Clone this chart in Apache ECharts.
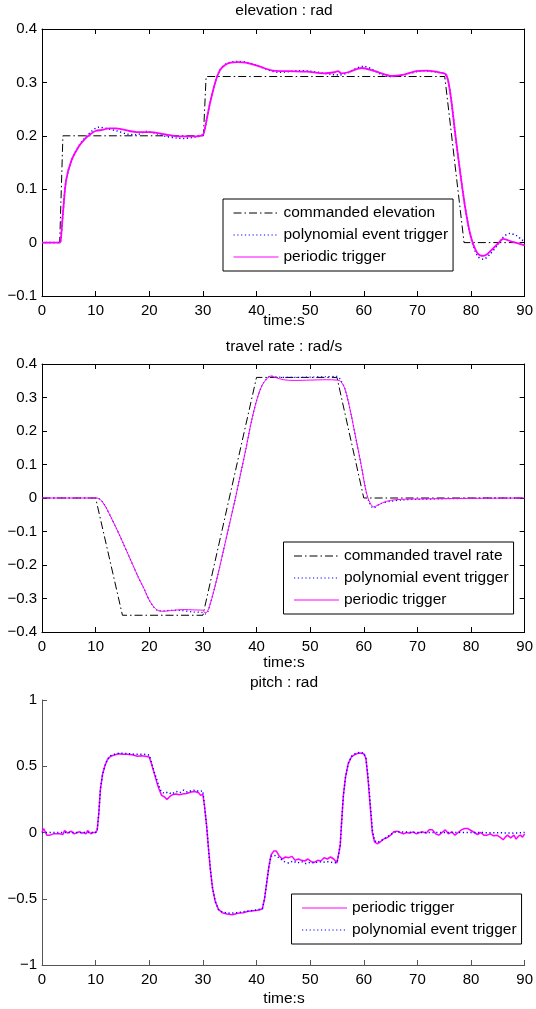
<!DOCTYPE html>
<html>
<head>
<meta charset="utf-8">
<script src="https://cdn.jsdelivr.net/npm/echarts@6/dist/echarts.min.js"></script>
<style>html,body{margin:0;padding:0;background:#fff}#c{width:536px;height:1009px}</style>
</head>
<body>
<div id="c"></div>
<script>
// ---------- data: [time (s), value] ----------
const timeTicks = [0, 10, 20, 30, 40, 50, 60, 70, 80, 90];

const elevCmd = [[0,0],[3.3,0],[3.9,0.2],[30.1,0.2],[30.6,0.311],[75.1,0.311],[78.7,0],[90,0]];
const elevPoly = [[0,0],[3.3,0],[3.5,0.005],[3.9,0.054],[4.5,0.117],[5.5,0.154],[6.8,0.18],[8.1,0.197],[9.2,0.208],[10.5,0.216],[12,0.214],[14,0.209],[16,0.203],[17.6,0.202],[19.5,0.208],[21,0.205],[23,0.199],[25,0.196],[26.5,0.195],[28,0.197],[29.6,0.2],[30.1,0.204],[30.7,0.23],[31.3,0.26],[32.3,0.3],[33.2,0.324],[34.2,0.334],[35.2,0.338],[36.5,0.339],[38,0.338],[40,0.332],[42,0.324],[44,0.319],[46,0.32],[48,0.322],[50,0.321],[52,0.318],[54,0.315],[55.5,0.314],[57,0.318],[58.5,0.326],[60,0.33],[61.5,0.325],[63,0.316],[65,0.311],[67,0.313],[69,0.318],[71,0.322],[73,0.32],[74.8,0.317],[75.3,0.314],[75.8,0.3],[76.4,0.26],[77.1,0.2],[78,0.13],[79,0.06],[80,0.008],[81.2,-0.025],[82.3,-0.031],[83.5,-0.022],[85,-0.004],[86,0.01],[87.2,0.017],[88.5,0.013],[89.5,0.005],[90,0.003]];
const elevPer = [[0,0],[3.3,0],[3.5,0.005],[3.9,0.054],[4.5,0.117],[5.5,0.154],[6.8,0.179],[8.1,0.195],[9,0.203],[10,0.209],[11.2,0.211],[12.5,0.214],[13.8,0.214],[15,0.212],[16.3,0.209],[17.6,0.207],[20.2,0.207],[22.7,0.203],[25.3,0.199],[27.8,0.199],[29.6,0.2],[30.1,0.203],[30.7,0.23],[31.3,0.26],[32.3,0.3],[33.2,0.323],[34.2,0.333],[35.2,0.337],[36.5,0.338],[38,0.337],[40.5,0.33],[43.1,0.322],[46.2,0.321],[49.4,0.32],[52.6,0.317],[54.5,0.319],[55.2,0.321],[55.8,0.317],[57.1,0.319],[59.6,0.327],[62.1,0.321],[65.3,0.312],[67.2,0.314],[69.8,0.321],[71.7,0.322],[74.5,0.318],[75.3,0.315],[75.8,0.3],[76.4,0.26],[77.1,0.2],[78,0.13],[79,0.06],[80,0.01],[81.2,-0.02],[82.3,-0.025],[83,-0.022],[83.8,-0.014],[85,-0.002],[86,0.007],[87.6,0.002],[90,-0.005]];

const travCmd = [[0,0],[10,0],[15,-0.35],[30,-0.35],[40,0.36],[55,0.36],[60,0],[90,0]];
const travPoly = [[0,0],[10.2,0],[10.6,-0.002],[11.2,-0.01],[12,-0.03],[13,-0.062],[14,-0.095],[15,-0.13],[16,-0.166],[17,-0.202],[18,-0.238],[19,-0.27],[20,-0.305],[21,-0.328],[21.8,-0.337],[22.7,-0.337],[24,-0.335],[26,-0.336],[28,-0.34],[30,-0.342],[30.5,-0.346],[30.9,-0.34],[31.3,-0.32],[32,-0.28],[33,-0.215],[34,-0.145],[35,-0.075],[36,-0.005],[37,0.07],[38,0.145],[39,0.225],[40,0.29],[41,0.335],[42,0.358],[42.7,0.364],[43.5,0.362],[45,0.36],[47,0.36],[50,0.361],[53,0.362],[55,0.363],[55.7,0.352],[56.5,0.325],[57.5,0.26],[58.5,0.18],[59.5,0.1],[60.3,0.03],[60.9,-0.008],[61.8,-0.03],[63,-0.018],[65,-0.01],[67,-0.006],[70,-0.004],[80,-0.001],[90,0]];
const travPer = [[0,0],[10.2,0],[10.6,-0.002],[11.2,-0.01],[12,-0.03],[13,-0.062],[14,-0.095],[15,-0.13],[16,-0.166],[17,-0.202],[18,-0.238],[19,-0.27],[20,-0.305],[21,-0.328],[21.8,-0.337],[22.7,-0.338],[24,-0.336],[26.5,-0.333],[28,-0.334],[30,-0.335],[30.4,-0.343],[30.8,-0.34],[31.3,-0.32],[32,-0.28],[33,-0.215],[34,-0.145],[35,-0.075],[36,-0.005],[37,0.07],[38,0.145],[39,0.225],[40,0.29],[41,0.335],[42,0.358],[42.7,0.364],[43.5,0.36],[45,0.353],[47,0.351],[50,0.352],[53,0.353],[55,0.352],[55.7,0.348],[56.5,0.325],[57.5,0.26],[58.5,0.18],[59.5,0.1],[60.3,0.03],[60.9,-0.005],[61.8,-0.026],[62.6,-0.022],[63.5,-0.014],[65,-0.007],[67,-0.004],[70,-0.003],[80,-0.001],[90,0]];

const pitchPer = [[0,0],[0.3,0.03],[0.6,0.02],[0.9,-0.02],[1.2,-0.03],[1.5,-0.02],[1.8,-0.03],[2.1,-0.01],[2.4,-0.02],[2.7,-0.01],[3,-0.025],[3.3,-0.01],[3.6,0],[3.9,-0.015],[4.2,0.015],[4.5,0.02],[4.8,-0.005],[5.1,-0.02],[5.4,0.01],[5.7,0.015],[6,-0.01],[6.3,0],[6.6,0],[7,0.005],[7.4,-0.005],[7.8,0],[8.2,-0.01],[8.5,0.015],[8.8,0.01],[9.1,-0.01],[9.5,0],[10,0],[10.3,0.02],[10.6,0.15],[10.9,0.33],[11.3,0.44],[11.7,0.5],[12.2,0.55],[12.8,0.575],[13.5,0.585],[14.3,0.595],[15,0.59],[16,0.59],[17,0.585],[17.8,0.575],[18.5,0.58],[19.3,0.575],[20,0.57],[20.4,0.52],[20.9,0.45],[21.4,0.38],[21.8,0.33],[22.3,0.28],[22.8,0.27],[23.3,0.25],[23.8,0.27],[24.3,0.285],[25,0.29],[25.6,0.285],[26.2,0.29],[27,0.295],[27.8,0.305],[28.5,0.31],[29.2,0.3],[29.6,0.28],[30,0.29],[30.3,0.2],[30.7,0.05],[31,-0.1],[31.4,-0.28],[31.8,-0.42],[32.3,-0.52],[32.9,-0.58],[33.6,-0.605],[34.5,-0.615],[35.5,-0.62],[36.5,-0.61],[37.5,-0.605],[38.5,-0.595],[39.5,-0.59],[40.5,-0.585],[41.1,-0.575],[41.5,-0.5],[41.9,-0.38],[42.3,-0.26],[42.7,-0.17],[43.2,-0.14],[43.7,-0.14],[44.2,-0.175],[44.8,-0.2],[45.4,-0.185],[46,-0.19],[46.6,-0.18],[47.2,-0.21],[47.8,-0.2],[48.4,-0.21],[49,-0.215],[49.6,-0.2],[50.2,-0.22],[50.8,-0.225],[51.4,-0.21],[52,-0.215],[52.6,-0.19],[53.2,-0.2],[53.8,-0.185],[54.4,-0.2],[55,-0.23],[55.3,-0.24],[55.6,-0.1],[55.9,0.1],[56.2,0.28],[56.6,0.42],[57.1,0.52],[57.7,0.57],[58.4,0.59],[59.2,0.6],[60,0.595],[60.4,0.56],[60.8,0.4],[61.2,0.2],[61.6,0],[62,-0.07],[62.5,-0.085],[63.1,-0.07],[63.7,-0.05],[64.3,-0.04],[65,-0.02],[65.6,0.005],[66.2,0.01],[66.8,0],[67.4,-0.01],[68,0],[68.6,-0.005],[69.2,0.005],[69.8,-0.01],[70.4,0],[71,0.005],[71.6,-0.005],[72.2,0.02],[72.8,0.02],[73.4,-0.01],[74,-0.02],[74.6,0],[75.2,0.02],[75.8,-0.01],[76.4,0.005],[77,-0.02],[77.6,0],[78.2,0.02],[78.8,0.03],[79.4,0.03],[80,0.015],[80.6,0],[81.2,-0.015],[81.8,0],[82.4,-0.02],[83,-0.02],[83.6,-0.01],[84.2,-0.025],[84.8,-0.02],[85.4,-0.035],[86,-0.055],[86.4,-0.035],[86.8,-0.02],[87.4,-0.04],[88,-0.02],[88.4,-0.05],[88.8,-0.03],[89.2,-0.02],[89.6,-0.035],[90,-0.01]];
const pitchPoly = [[0,0],[10,0],[10.3,0.02],[10.6,0.15],[10.9,0.33],[11.3,0.44],[11.7,0.5],[12.2,0.555],[12.8,0.58],[13.5,0.59],[14.5,0.6],[16,0.595],[17.5,0.59],[19,0.59],[20,0.585],[20.4,0.53],[20.9,0.46],[21.4,0.4],[21.8,0.35],[22.2,0.31],[22.8,0.295],[23.5,0.305],[24.2,0.29],[25,0.31],[25.7,0.3],[26.4,0.32],[27.1,0.305],[27.8,0.315],[28.5,0.32],[29.3,0.31],[30,0.315],[30.3,0.2],[30.7,0.05],[31,-0.1],[31.4,-0.28],[31.8,-0.42],[32.3,-0.52],[32.9,-0.58],[33.6,-0.6],[35,-0.61],[36.5,-0.605],[38,-0.595],[40,-0.585],[41.1,-0.575],[41.5,-0.5],[41.9,-0.38],[42.3,-0.26],[42.7,-0.18],[43.2,-0.17],[43.8,-0.18],[44.5,-0.2],[45.2,-0.22],[46,-0.23],[46.8,-0.215],[47.6,-0.23],[48.4,-0.22],[49.2,-0.235],[50,-0.225],[50.8,-0.23],[51.6,-0.22],[52.4,-0.225],[53.2,-0.22],[54,-0.225],[55,-0.23],[55.3,-0.23],[55.6,-0.1],[55.9,0.1],[56.2,0.28],[56.6,0.42],[57.1,0.52],[57.7,0.575],[58.4,0.595],[59.2,0.605],[60,0.6],[60.4,0.56],[60.8,0.42],[61.2,0.22],[61.6,0.02],[62,-0.06],[62.5,-0.075],[63.1,-0.065],[63.7,-0.05],[64.3,-0.035],[65,-0.015],[65.6,0],[66.2,0.005],[68,0.003],[70,0],[75,0],[80,0],[85,-0.002],[88,-0.005],[90,0]];

// ---------- chart ----------
const FONT = 'Liberation Sans, Arial, Helvetica, sans-serif';
const GRID = [
  {left: 42, top: 29, width: 484, height: 267},
  {left: 42, top: 364, width: 484, height: 268},
  {left: 42, top: 700, width: 484, height: 265}
];
const fmt = v => String(Math.round(v * 1000) / 1000).replace('-', '\u2212');

function xAx(grid, pos, labels, color) {
  return {
    type: 'value', gridIndex: grid, position: pos, min: 0, max: 90, interval: 10,
    axisLine: {show: true, onZero: false, lineStyle: {color: color, width: 1}},
    axisTick: {show: true, inside: true, length: 5, lineStyle: {color: color}},
    axisLabel: {show: labels, color: '#000', fontSize: 15, fontFamily: FONT, margin: 7,
      formatter: v => timeTicks.indexOf(v) >= 0 ? String(v) : ''},
    splitLine: {show: false}
  };
}
function yAx(grid, pos, labels, min, max, step, color) {
  return {
    type: 'value', gridIndex: grid, position: pos, min: min, max: max, interval: step,
    axisLine: {show: true, onZero: false, lineStyle: {color: color, width: 1}},
    axisTick: {show: true, inside: true, length: 5, lineStyle: {color: color}},
    axisLabel: {show: labels, color: '#000', fontSize: 15, fontFamily: FONT, margin: 5, formatter: fmt},
    splitLine: {show: false}
  };
}
const CMD = {color: '#000', width: 1, type: [8, 3, 1.5, 3]};
const POLY = w => ({color: '#0000ff', width: w, type: [1.2, 2.6]});
const PER = w => ({color: '#ff00ff', width: w, type: 'solid'});

function line(name, data, axis, style, smooth) {
  return {name: name, type: 'line', data: data, xAxisIndex: axis, yAxisIndex: axis,
    showSymbol: false, symbol: 'none', smooth: smooth, lineStyle: style,
    itemStyle: {color: style.color}, emphasis: {disabled: true}, silent: true};
}
function legend(left, top, names) {
  return {
    orient: 'vertical', left: left, top: top, data: names,
    padding: [6, 5, 6, 10], itemWidth: 45, itemHeight: 16, itemGap: 6,
    backgroundColor: '#fff', borderColor: '#000', borderWidth: 1, borderRadius: 0,
    textStyle: {color: '#000', fontSize: 15.5, fontFamily: FONT, lineHeight: 16},
    itemStyle: {opacity: 0},
    lineStyle: {width: 1, opacity: 1}, selectedMode: false
  };
}
function txt(x, y, s) {
  return {type: 'text', x: x, y: y, silent: true,
    style: {text: s, font: '15.5px ' + FONT, fill: '#000',
      textAlign: 'center', textVerticalAlign: 'middle', align: 'center', verticalAlign: 'middle'}};
}

const chart = echarts.init(document.getElementById('c'), null, {renderer: 'canvas'});
chart.setOption({
  animation: false,
  backgroundColor: '#fff',
  grid: GRID,
  xAxis: [
    xAx(0, 'bottom', true, '#000'), xAx(0, 'top', false, '#000'),
    xAx(1, 'bottom', true, '#000'), xAx(1, 'top', false, '#000'),
    xAx(2, 'bottom', true, '#555')
  ],
  yAxis: [
    yAx(0, 'left', true, -0.1, 0.4, 0.1, '#000'), yAx(0, 'right', false, -0.1, 0.4, 0.1, '#000'),
    yAx(1, 'left', true, -0.4, 0.4, 0.1, '#000'), yAx(1, 'right', false, -0.4, 0.4, 0.1, '#000'),
    yAx(2, 'left', true, -1, 1, 0.5, '#555')
  ],
  legend: [
    legend(223, 199, ['commanded elevation', 'polynomial event trigger', 'periodic trigger']),
    legend(283.5, 542, ['commanded travel rate', 'polynomial event trigger', 'periodic trigger']),
    legend(291.5, 894, ['periodic trigger', 'polynomial event trigger'])
  ],
  series: [
    line('commanded elevation', elevCmd, 0, CMD, false),
    line('polynomial event trigger', elevPoly, 0, POLY(1.5), 0.3),
    line('periodic trigger', elevPer, 0, PER(1.8), 0.3),
    line('commanded travel rate', travCmd, 2, CMD, false),
    line('polynomial event trigger', travPoly, 2, POLY(1.2), 0.3),
    line('periodic trigger', travPer, 2, PER(1), 0.3),
    line('periodic trigger', pitchPer, 4, PER(1.5), false),
    line('polynomial event trigger', pitchPoly, 4, POLY(1.5), false)
  ],
  graphic: [
    txt(284, 11, 'elevation : rad'), txt(284, 321, 'time:s'),
    txt(284, 347, 'travel rate : rad/s'), txt(284, 663, 'time:s'),
    txt(284, 683, 'pitch : rad'), txt(284, 999, 'time:s')
  ]
});
</script>
</body>
</html>
